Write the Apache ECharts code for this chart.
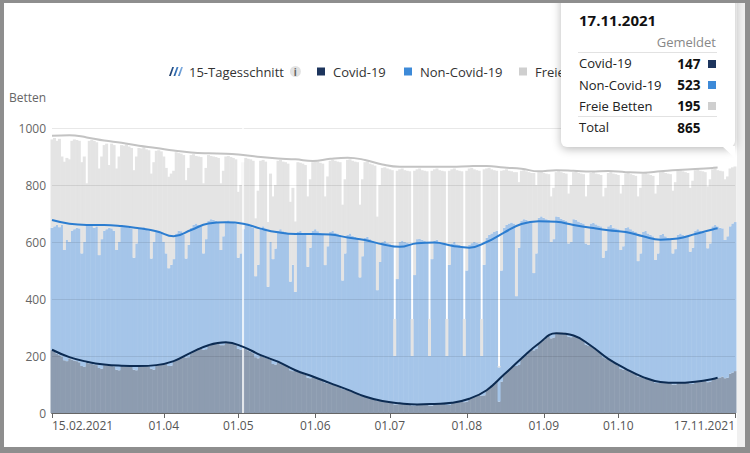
<!DOCTYPE html>
<html><head><meta charset="utf-8">
<script src="https://cdn.jsdelivr.net/npm/echarts@6.0.0/dist/echarts.min.js"></script>
<style>
html,body{margin:0;padding:0;background:#fff;}
#wrap{position:relative;width:750px;height:453px;overflow:hidden;background:#fff;font-family:'Open Sans',sans-serif;}
#chart{position:absolute;left:0;top:0;width:750px;height:453px;}
.abs{position:absolute;white-space:nowrap;}
</style></head>
<body><div id="wrap"><div id="chart"></div></div>
<script>
// ---- data ----
const startDate = '2021-02-15';
const covid = [
220,214,208,203,198,185,182, 192,188,184,182,178,165,162, 176,174,172,170,168,158,155, 168,167,166,165,164,152,150,
165,164,164,163,163,152,150, 164,164,165,165,164,155,152, 166,168,170,172,175,165,166, 180,186,192,197,202,195,196,
210,216,222,228,232,222,224, 238,241,244,246,247,238,238, 248,247,245,242,238,225,222, 230,225,220,215,210,196,192,
202,198,194,190,186,172,170, 180,176,171,166,161,150,147, 150,146,142,138,134,124,122, 128,125,121,118,114,106,104,
105,102,98,95,92,84,82, 82,78,75,72,68,62,60, 58,55,52,50,47,42,42, 42,41,40,38,37,30,30,
34,33,32,31,31,26,26, 30,30,30,31,31,26,26, 32,32,33,34,35,28,28, 36,38,40,42,44,38,40,
50,54,58,63,68,60,62, 82,90,98,106,114,40,110, 135,143,152,160,168,165,170, 190,198,206,214,222,220,225,
246,252,258,264,270,262,265, 282,283,283,282,280,268,266, 272,268,264,259,254,240,236, 236,230,224,217,210,196,192,
190,184,178,172,167,155,152, 155,150,146,141,137,128,126, 126,122,119,116,114,106,105, 109,108,107,106,106,100,100,
106,107,107,107,108,102,102, 110,110,111,112,113,108,110, 119,121,123,125,128,122,124, 138,142,147
];
const occupied = [
650,655,660,652,660,572,607, 600,640,645,650,648,560,600, 660,662,658,650,655,554,610, 640,645,650,648,640,572,600,
660,658,655,650,648,545,595, 650,648,652,645,640,542,600, 640,636,630,600,560,508,520, 540,630,640,638,625,542,590,
650,660,665,660,655,560,610, 675,680,678,675,670,572,620, 672,676,670,668,665,545,560, 645,660,662,655,650,480,520,
650,655,648,443,600,540,577, 640,645,638,635,630,461,520, 425,635,640,632,628,513,580, 640,645,638,632,630,519,585,
635,640,632,630,625,465,560, 625,630,622,618,615,476,550, 615,618,610,605,600,431,530, 600,605,598,595,590,200,470,
600,605,600,598,595,200,484, 610,612,608,605,600,200,540, 605,608,600,598,595,200,520, 595,600,592,590,585,200,500,
590,596,600,598,595,200,520, 615,625,630,635,640,160,500, 650,660,665,668,665,410,580, 675,680,678,672,670,491,560,
685,690,685,680,678,600,610, 690,688,682,678,675,595,600, 680,678,672,668,665,595,590, 665,668,662,658,655,545,570,
655,660,650,648,645,572,585, 650,652,645,640,635,533,560, 635,640,630,625,620,537,560, 625,628,620,615,610,560,575,
625,630,625,620,618,566,580, 640,645,640,635,632,578,595, 655,660,655,650,648,607,620, 655,665,670
];
const capacity = [
960,965,955,962,900,882,895, 890,955,960,958,955,880,900, 806,955,958,955,950,858,900, 940,945,870,945,940,858,900,
940,938,942,935,930,852,900, 930,928,932,925,922,840,880, 920,922,918,900,860,829,840, 850,915,912,910,905,817,860,
905,908,902,900,898,806,860, 905,902,900,898,895,806,850, 900,902,898,895,890,776,800, 880,895,892,890,885,683,780,
885,888,882,670,840,760,800, 885,888,882,880,875,741,790, 672,880,878,875,870,760,820, 880,885,882,878,875,760,830,
885,888,885,882,880,731,820, 888,890,885,882,880,731,820, 880,882,875,872,868,689,800, 860,862,858,855,852,330,850,
855,858,852,850,848,330,850, 855,858,852,850,848,330,850, 855,858,852,850,848,330,850, 855,858,852,850,848,330,850,
858,860,855,852,850,330,855, 858,860,855,852,850,165,850, 852,855,850,848,845,845,810, 850,852,848,845,842,842,800,
845,848,842,840,838,760,790, 845,848,845,842,840,770,800, 845,848,842,840,838,760,800, 842,845,840,838,835,760,790,
842,845,840,838,835,770,800, 840,842,838,835,832,760,790, 840,842,838,835,832,770,800, 845,848,842,840,838,780,810,
850,852,848,845,842,790,815, 852,855,850,848,845,795,820, 855,858,852,850,848,820,830, 858,862,865
];
// 15-day averages, sampled (day index from start)
const avgDays = [0,7,14,21,28,35,42,49,56,63,70,77,84,91,98,105,112,119,126,133,140,147,154,161,168,175,182,189,196,203,210,217,224,231,238,245,252,259,266,268];
const avgCovid = [222,196,180,170,166,165,168,182,212,238,248,232,203,180,150,128,105,82,58,42,34,30,32,36,50,80,135,191,244,280,272,236,190,155,126,109,106,110,119,124];
const avgOccupied = [677,664,660,660,656,648,638,620,642,665,669,664,647,634,628,628,626,616,607,592,583,596,598,587,580,600,633,663,673,671,660,650,641,635,620,608,612,628,644,648];
const avgCapacity = [973,975,967,956,948,938,930,921,914,911,910,905,898,893,890,884,892,896,888,872,864,864,864,864,866,867,861,857,848,852,850,847,849,845,843,848,853,856,860,861];
const tickDates = ['2021-02-15','2021-04-01','2021-05-01','2021-06-01','2021-07-01','2021-08-01','2021-09-01','2021-10-01','2021-11-17'];
const tickLabels = ['15.02.2021','01.04','01.05','01.06','01.07','01.08','01.09','01.10','17.11.2021'];
const markerDate = '2021-05-03';
const gridValues = [200,400,600,800,1000];

// ---- derived ----
const categories = [];
const t0 = Date.parse(startDate + 'T00:00:00Z');
for (let i = 0; i < covid.length; i++) categories.push(new Date(t0 + i * 86400000).toISOString().slice(0, 10));
const nonCovid = occupied.map((v, i) => v - covid[i]);
const free = capacity.map((v, i) => v - occupied[i]);
const tickSet = new Set(tickDates.map(d => categories.indexOf(d)));
const labelOf = {}; tickDates.forEach((d, k) => labelOf[d] = tickLabels[k]);
const pairs = arr => avgDays.map((d, k) => [categories[d], arr[k]]);

const FONT = "'Open Sans', sans-serif";
const C_COVID = '#1d355d', C_NON = '#3d8ad8', C_FREE = '#cfcfcf';

const chart = echarts.init(document.getElementById('chart'), null, {renderer: 'svg'});
const legendBase = {top: 60, selectedMode: false, itemHeight: 8, itemWidth: 8,
  textStyle: {fontFamily: FONT, fontSize: 13, color: '#333', padding: [0, 0, 0, 3]}};
chart.setOption({
  animation: false,
  backgroundColor: 'transparent',
  grid: {left: 52, right: 15, top: 128, bottom: 40},
  legend: [
    Object.assign({}, legendBase, {left: 164, itemWidth: 14, itemHeight: 9,
      data: [{name: '15-Tagesschnitt', icon: 'path://M0,10 L3.6,0 L5.6,0 L2,10 Z M5,10 L8.6,0 L10.6,0 L7,10 Z M10,10 L13.6,0 L15.6,0 L12,10 Z',
        itemStyle: {color: new echarts.graphic.LinearGradient(0, 0, 1, 0, [{offset: 0, color: '#1d355d'}, {offset: 0.5, color: '#2f6fb8'}, {offset: 1, color: '#8fb8e6'}])}}],
      formatter: n => '{t|' + n + '}{s| }{i|i}',
      textStyle: {fontFamily: FONT, fontSize: 13, color: '#333', padding: [0, 0, 0, 1],
        rich: {t: {fontFamily: FONT, fontSize: 13, color: '#333'},
               s: {width: 6},
               i: {fontFamily: FONT, fontSize: 10, fontWeight: 'bold', color: '#666', backgroundColor: '#e2e2e2', borderRadius: 6, width: 11, height: 11, lineHeight: 11, align: 'center'}}}}),
    Object.assign({}, legendBase, {left: 312, data: [{name: 'Covid-19', icon: 'rect', itemStyle: {color: C_COVID}}]}),
    Object.assign({}, legendBase, {left: 399, data: [{name: 'Non-Covid-19', icon: 'rect', itemStyle: {color: C_NON}}]}),
    Object.assign({}, legendBase, {left: 514, data: [{name: 'Freie Betten', icon: 'rect', itemStyle: {color: C_FREE}}],
      textStyle: {fontFamily: FONT, fontSize: 13, color: '#333', padding: [0, 0, 0, 3], width: 37, overflow: 'truncate', ellipsis: ''}})
  ],
  graphic: [{type: 'text', left: 9, top: 91, style: {text: 'Betten', fill: '#666', font: '12px ' + FONT}}],
  xAxis: {
    type: 'category', data: categories, boundaryGap: false,
    axisLine: {lineStyle: {color: '#666', width: 2}},
    axisTick: {show: true, length: 5, interval: i => tickSet.has(i), lineStyle: {color: '#666'}},
    axisLabel: {interval: i => tickSet.has(i), formatter: v => labelOf[v] || '', color: '#555', fontSize: 12, fontFamily: FONT, margin: 6,
      alignMinLabel: 'left', alignMaxLabel: 'right', showMinLabel: true, showMaxLabel: true},
    splitLine: {show: false}
  },
  yAxis: {
    type: 'value', min: 0, max: 1000, interval: 200,
    axisLine: {show: false}, axisTick: {show: false}, splitLine: {show: false},
    axisLabel: {color: '#666', fontSize: 12, fontFamily: FONT, margin: 6, formatter: v => String(v)}
  },
  series: [
    {name: 'Covid-19', type: 'bar', stack: 'beds', data: covid, barWidth: 3, silent: true,
      itemStyle: {color: '#8d9cb0'},
      markLine: {silent: true, symbol: ['none', 'none'], label: {show: false}, z: 6,
        lineStyle: {color: '#ffffff', width: 1.5, type: 'solid'}, data: [{xAxis: markerDate}]}},
    {name: 'Non-Covid-19', type: 'bar', stack: 'beds', data: nonCovid, barWidth: 3, silent: true, itemStyle: {color: '#a5c5e9'}},
    {name: 'Freie Betten', type: 'bar', stack: 'beds', data: free, barWidth: 3, silent: true, itemStyle: {color: '#e4e4e4'}},
    {name: '15-Tagesschnitt', type: 'line', data: pairs(avgCapacity), smooth: 0.45, symbol: 'none', z: 10, silent: true,
      itemStyle: {color: '#c3c3c3'}, lineStyle: {color: '#c3c3c3', width: 2},
      markLine: {silent: true, symbol: ['none', 'none'], label: {show: false}, z: 5,
        lineStyle: {color: 'rgba(0,0,0,0.09)', width: 1, type: 'solid'}, data: gridValues.map(v => ({yAxis: v}))}},
    {name: '15-Tagesschnitt', type: 'line', data: pairs(avgOccupied), smooth: 0.45, symbol: 'none', z: 11, silent: true,
      itemStyle: {color: '#2c7dd0'}, lineStyle: {color: '#2c7dd0', width: 2}},
    {name: '15-Tagesschnitt', type: 'line', data: pairs(avgCovid), smooth: 0.45, symbol: 'none', z: 12, silent: true,
      itemStyle: {color: '#0c2b52'}, lineStyle: {color: '#0c2b52', width: 2}}
  ]
});

// ---- static tooltip for the last day ----
const wrap = document.getElementById('wrap');
function el(css, txt) { const d = document.createElement('div'); d.className = 'abs'; d.style.cssText = css; if (txt != null) d.textContent = txt; wrap.appendChild(d); return d; }
const last = covid.length - 1;
const dd = categories[last].split('-');
el('left:737px;top:3px;width:8px;height:444px;background:#f0f0f0;');
el('left:561px;top:-12px;width:174px;height:159px;background:#fff;border-radius:6px;box-shadow:0 2px 10px rgba(0,0,0,0.28);');
el('left:722px;top:146px;width:13px;height:12px;background:#fff;clip-path:polygon(0 0,100% 0,100% 100%);');
el('left:579px;top:10px;font-weight:bold;font-size:15px;line-height:20px;color:#111;', dd[2] + '.' + dd[1] + '.' + dd[0]);
el('right:34px;top:34px;font-size:13px;line-height:17px;color:#888;', 'Gemeldet');
el('left:578px;top:52px;width:139px;height:1px;background:#e2e2e2;');
const rows = [['Covid-19', covid[last], C_COVID], ['Non-Covid-19', nonCovid[last], C_NON], ['Freie Betten', free[last], C_FREE]];
const rowY = [63.5, 85, 106.3];
rows.forEach((r, k) => {
  const cy = rowY[k];
  el('left:579px;top:' + (cy - 8.5) + 'px;font-size:13px;line-height:17px;color:#222;', r[0]);
  el('right:49.5px;top:' + (cy - 9) + 'px;font-size:13.5px;font-weight:bold;line-height:18px;color:#111;', String(r[1]));
  el('left:708px;top:' + (cy - 4) + 'px;width:8px;height:8px;background:' + r[2] + ';');
});
el('left:578px;top:116px;width:139px;height:1px;background:#e2e2e2;');
el('left:579px;top:119px;font-size:13px;line-height:17px;color:#222;', 'Total');
el('right:49.5px;top:118.5px;font-size:13.5px;font-weight:bold;line-height:18px;color:#111;', String(capacity[last]));
// outer frame
el('left:0;top:0;width:750px;height:3px;background:#8e8e8e;');
el('left:0;top:0;width:4px;height:453px;background:#8e8e8e;');
el('left:745px;top:0;width:5px;height:453px;background:#8e8e8e;');
el('left:0;top:447px;width:750px;height:6px;background:#8e8e8e;');
</script>
</body></html>
